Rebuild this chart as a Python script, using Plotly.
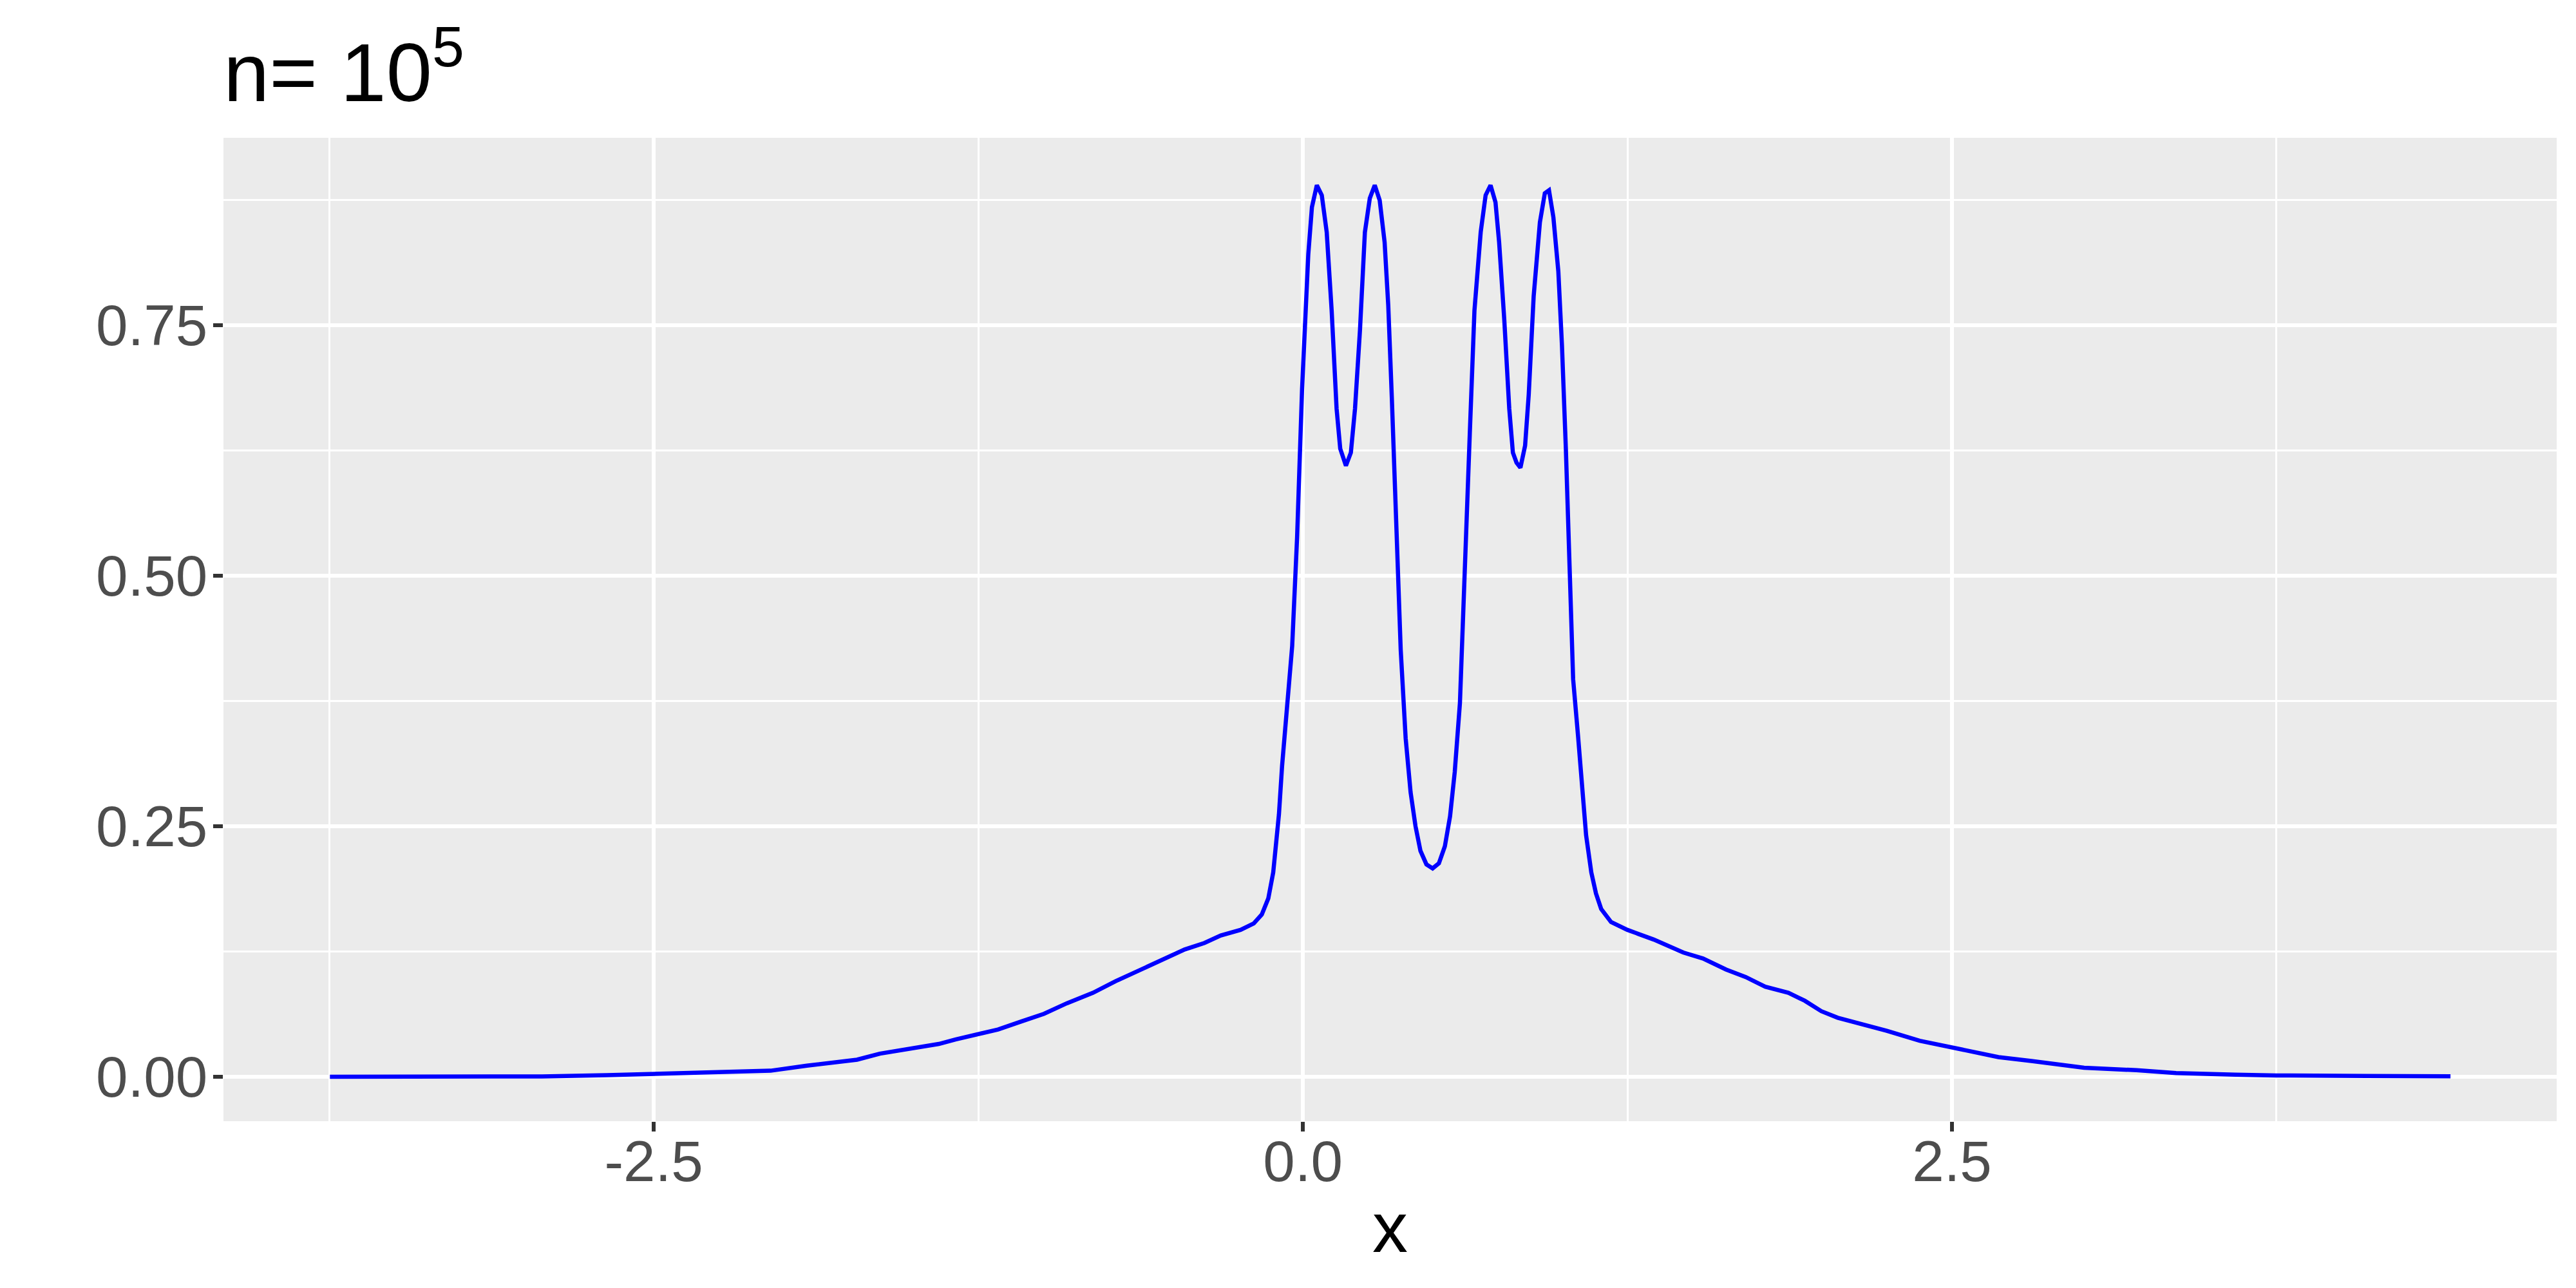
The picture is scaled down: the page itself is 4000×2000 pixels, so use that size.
import plotly.graph_objects as go

# Density estimate
x_vals = [
    -3.747, -3.33, -2.93, -2.68, -2.51, -2.28, -2.05, -1.91, -1.79, -1.717,
    -1.629, -1.515, -1.402, -1.338, -1.25, -1.174, -1.086, -0.997, -0.909, -0.808,
    -0.720, -0.631, -0.530, -0.455, -0.379, -0.316, -0.240, -0.189, -0.158, -0.133,
    -0.114, -0.101, -0.092, -0.080, -0.068, -0.055, -0.041, -0.022, -0.003, 0.021,
    0.035, 0.054, 0.073, 0.092, 0.111, 0.130, 0.144, 0.166, 0.185, 0.201,
    0.220, 0.239, 0.258, 0.277, 0.296, 0.315, 0.329, 0.343, 0.358, 0.377,
    0.396, 0.415, 0.434, 0.453, 0.476, 0.500, 0.524, 0.547, 0.567, 0.585,
    0.605, 0.624, 0.643, 0.661, 0.685, 0.704, 0.723, 0.742, 0.756, 0.776,
    0.795, 0.809, 0.823, 0.838, 0.856, 0.870, 0.889, 0.913, 0.932, 0.948,
    0.965, 0.984, 0.998, 1.013, 1.027, 1.041, 1.060, 1.078, 1.091, 1.111,
    1.129, 1.149, 1.187, 1.25, 1.351, 1.465, 1.541, 1.630, 1.706, 1.781,
    1.870, 1.933, 1.997, 2.060, 2.148, 2.249, 2.376, 2.477, 2.553, 2.679,
    2.806, 3.009, 3.211, 3.363, 3.591, 3.75, 4.097, 4.42,
]
y_vals = [
    0.0000, 0.0000, 0.0003, 0.0015, 0.0028, 0.0040, 0.0060, 0.0110, 0.0149, 0.0170,
    0.0230, 0.0275, 0.0327, 0.0372, 0.0427, 0.0471, 0.0550, 0.0628, 0.0733, 0.0838,
    0.0955, 0.1060, 0.1190, 0.1270, 0.1335, 0.1410, 0.1466, 0.1530, 0.1620, 0.1780,
    0.2040, 0.2360, 0.2620, 0.3100, 0.3500, 0.3900, 0.4300, 0.5390, 0.6860, 0.8210,
    0.8680, 0.8900, 0.8800, 0.8430, 0.7650, 0.6670, 0.6270, 0.6100, 0.6230, 0.6670,
    0.7450, 0.8430, 0.8770, 0.8900, 0.8750, 0.8330, 0.7700, 0.6760, 0.5690, 0.4260,
    0.3380, 0.2840, 0.2500, 0.2255, 0.2120, 0.2080, 0.2130, 0.2300, 0.2600, 0.3040,
    0.3730, 0.4950, 0.6420, 0.7650, 0.8430, 0.8800, 0.8900, 0.8730, 0.8330, 0.7550,
    0.6670, 0.6230, 0.6130, 0.6080, 0.6300, 0.6810, 0.7790, 0.8530, 0.8820, 0.8850,
    0.8580, 0.8040, 0.7300, 0.6270, 0.5100, 0.3970, 0.3400, 0.2880, 0.2410, 0.2040,
    0.1830, 0.1675, 0.1545, 0.1466, 0.1370, 0.1240, 0.1180, 0.1070, 0.0995, 0.0898,
    0.0838, 0.0759, 0.0654, 0.0589, 0.0531, 0.0458, 0.0359, 0.0306, 0.0267, 0.0196,
    0.0157, 0.0089, 0.0065, 0.0037, 0.0021, 0.0013, 0.0008, 0.0005,
]

x_tickvals = [-2.5, 0.0, 2.5]
x_ticktext = ["-2.5", "0.0", "2.5"]
x_minor = [-3.75, -1.25, 1.25, 3.75]
y_tickvals = [0.0, 0.25, 0.5, 0.75]
y_ticktext = ["0.00", "0.25", "0.50", "0.75"]
y_minor = [0.125, 0.375, 0.625, 0.875]

FONT = "Liberation Sans, Arial, sans-serif"
# page body has an 8px default margin; size the figure so the page is 4000x2000
OFF = 8
W, H = 4000 - 2 * OFF, 2000 - 2 * OFF
L = 347 - OFF
T = 214 - OFF
R = W - (3970 - OFF)
B = H - (1741 - OFF)

fig = go.Figure()
fig.add_trace(go.Scatter(
    x=x_vals, y=y_vals, mode="lines",
    line=dict(color="#0000FF", width=6.5),
    showlegend=False,
))

fig.update_layout(
    width=W, height=H,
    margin=dict(l=L, r=R, t=T, b=B, autoexpand=False),
    paper_bgcolor="white",
    plot_bgcolor="#EBEBEB",
    font=dict(family=FONT, color="black"),
    title=dict(
        text="n= 10<sup>5</sup>",
        font=dict(family=FONT, size=128, color="black"),
        xref="paper", x=0, xanchor="left",
        yref="container", y=1 - (157 - OFF) / H, yanchor="bottom",
    ),
)

fig.update_xaxes(
    range=[-4.157, 4.829],
    tickmode="array", tickvals=x_tickvals, ticktext=x_ticktext,
    ticks="outside", ticklen=15, tickwidth=6, tickcolor="#333333",
    tickfont=dict(family=FONT, size=89, color="#4D4D4D"),
    ticklabelstandoff=-30,
    showgrid=True, gridcolor="white", gridwidth=6,
    minor=dict(tickmode="array", tickvals=x_minor,
               showgrid=True, gridcolor="white", gridwidth=3, ticks=""),
    zeroline=False, showline=False,
    title=dict(text="x", font=dict(family=FONT, size=110, color="black"), standoff=15),
    automargin=False,
)
fig.update_yaxes(
    range=[-0.0444, 0.9373],
    tickmode="array", tickvals=y_tickvals, ticktext=y_ticktext,
    ticks="outside", ticklen=15, tickwidth=6, tickcolor="#333333",
    tickfont=dict(family=FONT, size=89, color="#4D4D4D"),
    ticklabelstandoff=-9,
    showgrid=True, gridcolor="white", gridwidth=6,
    minor=dict(tickmode="array", tickvals=y_minor,
               showgrid=True, gridcolor="white", gridwidth=3, ticks=""),
    zeroline=False, showline=False,
    automargin=False,
)

fig.write_html("out.html")
